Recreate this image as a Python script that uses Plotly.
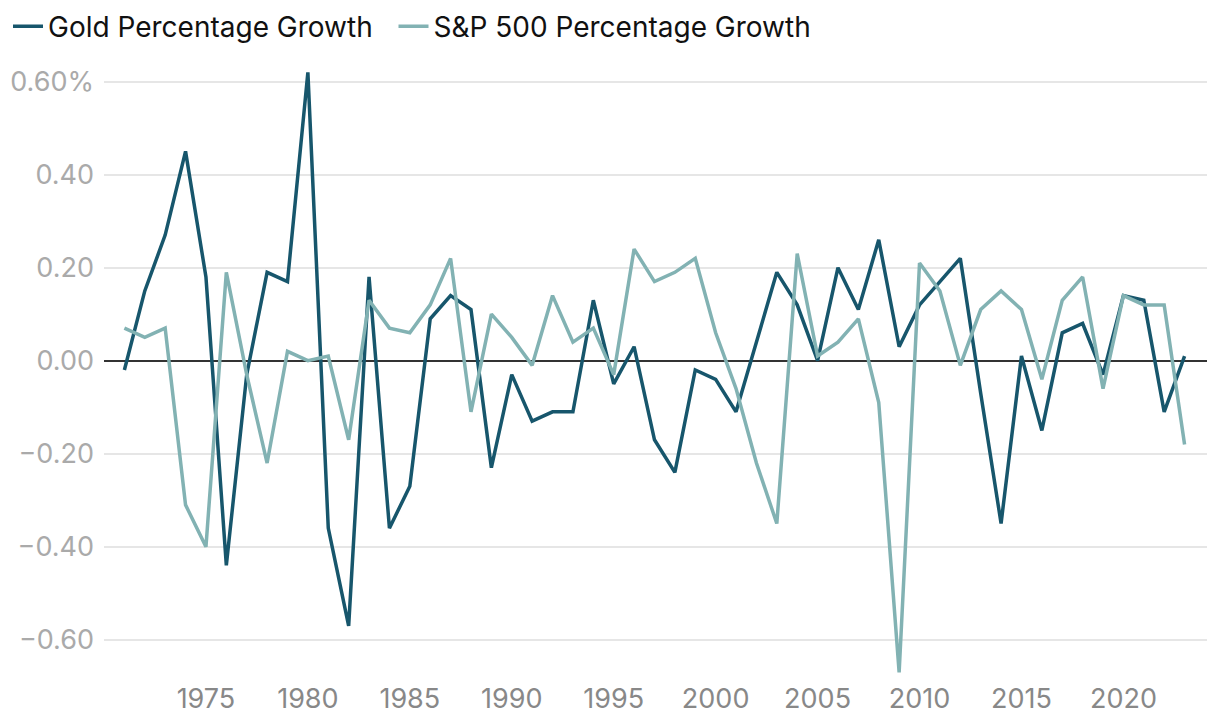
import plotly.graph_objects as go

years = list(range(1971, 2024))
gold = [-0.02, 0.15, 0.27, 0.45, 0.18, -0.44, -0.03, 0.19, 0.17, 0.62,
        -0.36, -0.57, 0.18, -0.36, -0.27, 0.09, 0.14, 0.11, -0.23, -0.03,
        -0.13, -0.11, -0.11, 0.13, -0.05, 0.03, -0.17, -0.24, -0.02, -0.04,
        -0.11, 0.04, 0.19, 0.12, 0.00, 0.20, 0.11, 0.26, 0.03, 0.12,
        0.17, 0.22, -0.07, -0.35, 0.01, -0.15, 0.06, 0.08, -0.03, 0.14,
        0.13, -0.11, 0.01]
sp500 = [0.07, 0.05, 0.07, -0.31, -0.40, 0.19, -0.03, -0.22, 0.02, 0.00,
         0.01, -0.17, 0.13, 0.07, 0.06, 0.12, 0.22, -0.11, 0.10, 0.05,
         -0.01, 0.14, 0.04, 0.07, -0.03, 0.24, 0.17, 0.19, 0.22, 0.06,
         -0.06, -0.22, -0.35, 0.23, 0.01, 0.04, 0.09, -0.09, -0.67, 0.21,
         0.15, -0.01, 0.11, 0.15, 0.11, -0.04, 0.13, 0.18, -0.06, 0.14,
         0.12, 0.12, -0.18]

y_tickvals = [0.6, 0.4, 0.2, 0.0, -0.2, -0.4, -0.6]
y_ticktext = ["0.60%", "0.40", "0.20", "0.00", "\u22120.20", "\u22120.40", "\u22120.60"]
x_tickvals = [1975, 1980, 1985, 1990, 1995, 2000, 2005, 2010, 2015, 2020]

GOLD_C = "#17566C"
SP_C = "#82B2B3"
FONT = "Inter, Roboto, sans-serif"

fig = go.Figure()
fig.add_trace(go.Scatter(x=years, y=gold, mode="lines",
                         name="Gold Percentage Growth\u00a0\u00a0",
                         line=dict(color=GOLD_C, width=3.5)))
fig.add_trace(go.Scatter(x=years, y=sp500, mode="lines", name="S&P 500 Percentage Growth",
                         line=dict(color=SP_C, width=3.5)))

fig.update_layout(
    width=1204, height=708,
    margin=dict(l=96, r=5, t=55, b=39, autoexpand=False),
    paper_bgcolor="white", plot_bgcolor="white",
    font=dict(family=FONT),
    showlegend=True,
    legend=dict(orientation="h", x=0, xref="container", xanchor="left",
                y=1.1, yref="paper", yanchor="top",
                font=dict(size=28, color="#111111", family=FONT),
                itemwidth=30, traceorder="normal", bgcolor="rgba(0,0,0,0)"),
    xaxis=dict(range=[1970.0, 2024.1], tickvals=x_tickvals, showgrid=False,
               zeroline=False, showline=False, ticks="", automargin=False,
               ticklabelstandoff=3,
               tickfont=dict(size=27, color="#888888", family=FONT)),
    yaxis=dict(range=[-0.68, 0.64], tickvals=y_tickvals, ticktext=y_ticktext,
               showgrid=True, gridcolor="#E6E6E6", gridwidth=1.5,
               zeroline=True, zerolinecolor="#333333", zerolinewidth=1.5,
               showline=False, ticks="", automargin=False,
               ticklabelstandoff=9,
               tickfont=dict(size=27, color="#AAAAAA", family=FONT)),
)

fig.write_html("out.html")
